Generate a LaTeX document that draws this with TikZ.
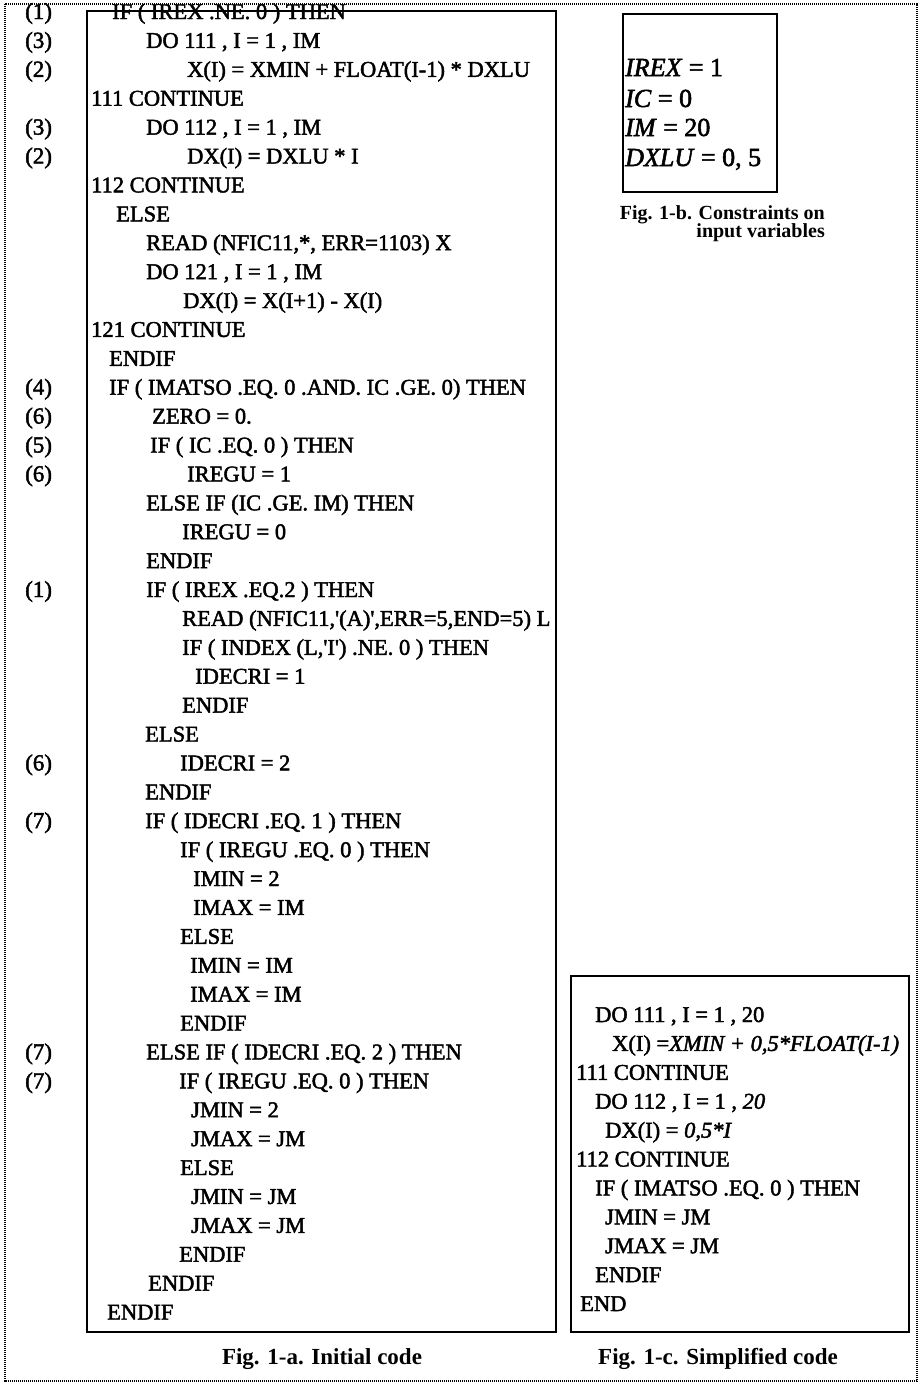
\documentclass[tikz,border=0pt]{standalone}
\usepackage{fontspec}
\setmainfont{Liberation Serif}
\newfontfamily\codefont{Liberation Serif}[FakeBold=2]
\begin{document}
\begin{tikzpicture}[x=1pt,y=-1pt,
  code/.style={anchor=base west, inner sep=0pt, font=\codefont\fontsize{22.5}{27}\selectfont},
  lab/.style={anchor=base west, inner sep=0pt, font=\codefont\fontsize{23}{27}\selectfont},
  cons/.style={anchor=base west, inner sep=0pt, font=\codefont\fontsize{26}{30}\selectfont},
  captxt/.style={anchor=base, inner sep=0pt, font=\bfseries\fontsize{23}{26}\selectfont},
  captxtb/.style={anchor=base east, inner sep=0pt, font=\bfseries\fontsize{20}{22}\selectfont},
  panel/.style={draw=black, line width=1.4pt},
  outer/.style={draw=black, line width=1.2pt, dash pattern=on 1.2pt off 0.8pt}]
\useasboundingbox (0,0) rectangle (921,1387);
\fill[white] (0,0) rectangle (921,1387);
\draw[outer] (5,4) rectangle (917,1381);
% Fig 1-a
\draw[panel] (87,11) rectangle (556,1332);
\foreach \ix/\txt [count=\n] in {
 112/{IF ( IREX .NE. 0 ) THEN},
 146/{DO 111 , I = 1 , IM},
 187/{X(I) = XMIN + FLOAT(I-1) * DXLU},
 91/{111 CONTINUE},
 146/{DO 112 , I = 1 , IM},
 187/{DX(I) = DXLU * I},
 91/{112 CONTINUE},
 116/{ELSE},
 146/{READ (NFIC11,*, ERR=1103) X},
 146/{DO 121 , I = 1 , IM},
 183/{DX(I) = X(I+1) - X(I)},
 91/{121 CONTINUE},
 109/{ENDIF},
 109/{IF ( IMATSO .EQ. 0 .AND. IC .GE. 0) THEN},
 152/{ZERO = 0.},
 150/{IF ( IC .EQ. 0 ) THEN},
 187/{IREGU = 1},
 146/{ELSE IF (IC .GE. IM) THEN},
 182/{IREGU = 0},
 146/{ENDIF},
 146/{IF ( IREX .EQ.2 ) THEN},
 182/{READ (NFIC11,'(A)',ERR=5,END=5) L},
 182/{IF ( INDEX (L,'I') .NE. 0 ) THEN},
 195/{IDECRI = 1},
 182/{ENDIF},
 145/{ELSE},
 180/{IDECRI = 2},
 145/{ENDIF},
 145/{IF ( IDECRI .EQ. 1 ) THEN},
 180/{IF ( IREGU .EQ. 0 ) THEN},
 193/{IMIN = 2},
 193/{IMAX = IM},
 180/{ELSE},
 190/{IMIN = IM},
 190/{IMAX = IM},
 180/{ENDIF},
 146/{ELSE IF ( IDECRI .EQ. 2 ) THEN},
 179/{IF ( IREGU .EQ. 0 ) THEN},
 191/{JMIN = 2},
 191/{JMAX = JM},
 180/{ELSE},
 191/{JMIN = JM},
 191/{JMAX = JM},
 179/{ENDIF},
 148/{ENDIF},
 107/{ENDIF}}
{ \node[code] (a\n) at (\ix,{19+(\n-1)*28.9}) {\txt}; }
\foreach \ln/\lt in {1/1,2/3,3/2,5/3,6/2,14/4,15/6,16/5,17/6,21/1,27/6,29/7,37/7,38/7}
{ \node[lab] (l\ln) at (25,{19+(\ln-1)*28.9}) {(\lt)}; }
\node[captxt] (capa) at (322,1364) {Fig. 1-a. Initial code};
% Fig 1-b
\draw[panel] (623,14) rectangle (777,192);
\node[cons] (b1) at (625,76) {\textit{IREX} = 1};
\node[cons] (b2) at (625,107) {\textit{IC} = 0};
\node[cons] (b3) at (625,136) {\textit{IM} = 20};
\node[cons] (b4) at (625,166) {\textit{DXLU} = 0, 5};
\node[captxtb] (capb1) at (825,219) {Fig. 1-b. Constraints on};
\node[captxtb] (capb2) at (825,237) {input variables};
% Fig 1-c
\draw[panel] (571,976) rectangle (909,1332);
\foreach \ix/\txt [count=\n] in {
 595/{DO 111 , I = 1 , 20},
 612/{X(I) =\textit{XMIN + 0,5*FLOAT(I-1)}},
 576/{111 CONTINUE},
 595/{DO 112 , I = 1 , \textit{20}},
 605/{DX(I) = \textit{0,5*I}},
 576/{112 CONTINUE},
 595/{IF ( IMATSO .EQ. 0 ) THEN},
 605/{JMIN = JM},
 605/{JMAX = JM},
 595/{ENDIF},
 580/{END}}
{ \node[code] (c\n) at (\ix,{1022+(\n-1)*28.9}) {\txt}; }
\node[captxt] (capc) at (718,1364) {Fig. 1-c. Simplified code};
\end{tikzpicture}
\end{document}
